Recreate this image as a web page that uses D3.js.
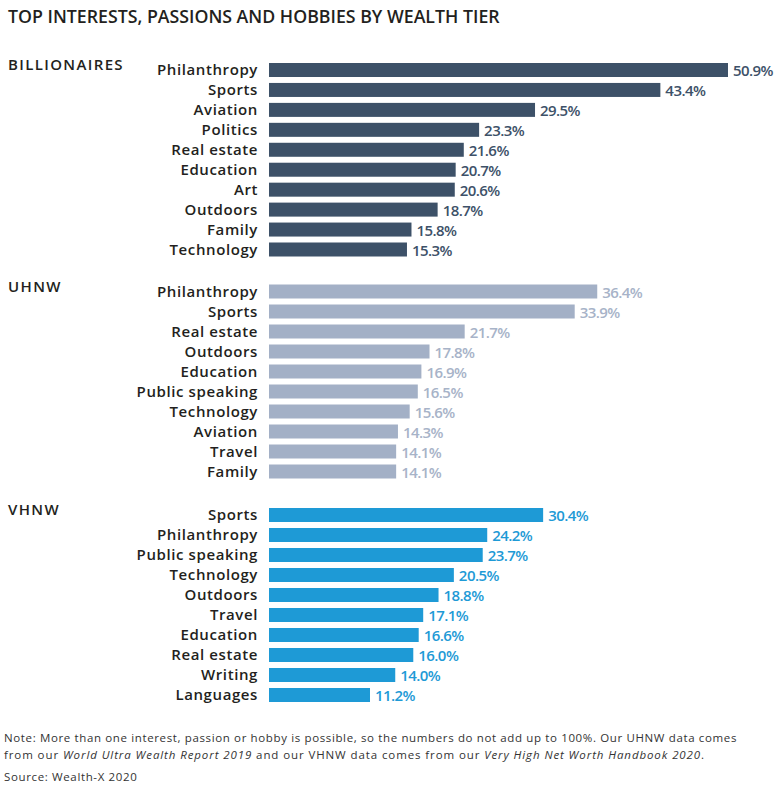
<!DOCTYPE html>
<html><head><meta charset="utf-8">
<script src="https://cdn.jsdelivr.net/npm/d3@7"></script>
<style>
html,body{margin:0;padding:0;background:#fff;}
svg{display:block;}
</style></head>
<body>
<script>
const titleText = "TOP INTERESTS, PASSIONS AND HOBBIES BY WEALTH TIER";
const tierNames = ["BILLIONAIRES", "UHNW", "VHNW"];

const billionaireCats = ["Philanthropy","Sports","Aviation","Politics","Real estate","Education","Art","Outdoors","Family","Technology"];
const billionaireVals = [50.9,43.4,29.5,23.3,21.6,20.7,20.6,18.7,15.8,15.3];

const uhnwCats = ["Philanthropy","Sports","Real estate","Outdoors","Education","Public speaking","Technology","Aviation","Travel","Family"];
const uhnwVals = [36.4,33.9,21.7,17.8,16.9,16.5,15.6,14.3,14.1,14.1];

const vhnwCats = ["Sports","Philanthropy","Public speaking","Technology","Outdoors","Travel","Education","Real estate","Writing","Languages"];
const vhnwVals = [30.4,24.2,23.7,20.5,18.8,17.1,16.6,16.0,14.0,11.2];

const W = 784, H = 793;
const svg = d3.select("body").append("svg").attr("width", W).attr("height", H);
const font = "'Open Sans', sans-serif";

const x = d3.scaleLinear().domain([0, 50.9]).range([269, 728]);

const sections = [
  {name: tierNames[0], cats: billionaireCats, vals: billionaireVals, y0: 70, y1: 249.5, bar: "#3d5168", txt: "#3d5168"},
  {name: tierNames[1], cats: uhnwCats, vals: uhnwVals, y0: 291.5, y1: 471.5, bar: "#a3b0c6", txt: "#a7b3c8"},
  {name: tierNames[2], cats: vhnwCats, vals: vhnwVals, y0: 515, y1: 695, bar: "#1e9ad6", txt: "#1e9ad6"}
];

function fitText(sel, target) {
  const w = sel.node().getComputedTextLength();
  const fs = parseFloat(sel.attr("font-size"));
  sel.attr("font-size", fs * target / w);
}
function spacingFor(str, fs, weight, target) {
  const tmp = svg.append("text").attr("font-family", font).attr("font-weight", weight)
    .attr("font-size", fs).text(str);
  const w = tmp.node().getComputedTextLength();
  tmp.remove();
  return (target - w) / str.length;
}

// Title
const t = svg.append("text").attr("x", 8).attr("y", 23)
  .attr("font-family", font).attr("font-weight", 600).attr("font-size", 15)
  .attr("fill", "#231f20").text(titleText);
fitText(t, 492);

const catFs = 15;
const catLs = spacingFor("Philanthropy", catFs, 600, 101);
const valFs = 15;
const valLs = spacingFor("50.9%", valFs, 600, 40);
const secLs = spacingFor("BILLIONAIRES", 15, 600, 116);

const barH = 14;
sections.forEach(s => {
  const y = d3.scalePoint().domain(s.cats).range([s.y0, s.y1]);
  const g = svg.append("g");
  g.append("text").attr("x", 8).attr("y", s.y0)
    .attr("font-family", font).attr("font-weight", 600).attr("font-size", 15)
    .attr("letter-spacing", secLs)
    .attr("fill", "#231f20").text(s.name);
  const data = s.cats.map((c, i) => ({c, v: s.vals[i]}));
  g.selectAll("rect").data(data).enter().append("rect")
    .attr("x", x(0)).attr("y", d => y(d.c) - barH / 2)
    .attr("width", d => x(d.v) - x(0)).attr("height", barH)
    .attr("fill", s.bar);
  g.selectAll("text.cat").data(data).enter().append("text").attr("class", "cat")
    .attr("x", 258).attr("y", d => y(d.c) + 5)
    .attr("text-anchor", "end")
    .attr("font-family", font).attr("font-weight", 600).attr("font-size", catFs)
    .attr("letter-spacing", catLs)
    .attr("fill", "#231f20").text(d => d.c);
  g.selectAll("text.val").data(data).enter().append("text").attr("class", "val")
    .attr("x", d => x(d.v) + 5).attr("y", d => y(d.c) + 6)
    .attr("font-family", font).attr("font-weight", 600).attr("font-size", valFs)
    .attr("letter-spacing", valLs)
    .attr("fill", s.txt).text(d => d.v.toFixed(1) + "%");
});

// Notes
const nfs = 11.5;
const line1 = "Note: More than one interest, passion or hobby is possible, so the numbers do not add up to 100%. Our UHNW data comes";
const nLs = spacingFor(line1, nfs, 400, 733);
svg.append("text").attr("x", 4).attr("y", 742)
  .attr("font-family", font).attr("font-size", nfs).attr("fill", "#333")
  .attr("letter-spacing", nLs).text(line1);
const n2 = svg.append("text").attr("x", 4).attr("y", 759)
  .attr("font-family", font).attr("font-size", nfs).attr("fill", "#333");
n2.append("tspan").text("from our ");
n2.append("tspan").attr("font-style", "italic").text("World Ultra Wealth Report 2019");
n2.append("tspan").text(" and our VHNW data comes from our ");
n2.append("tspan").attr("font-style", "italic").text("Very High Net Worth Handbook 2020");
n2.append("tspan").text(".");
const n2w = n2.node().getComputedTextLength();
const n2chars = n2.text().length;
n2.attr("letter-spacing", (701 - n2w) / n2chars);
svg.append("text").attr("x", 4).attr("y", 781)
  .attr("font-family", font).attr("font-size", nfs).attr("fill", "#333")
  .attr("letter-spacing", nLs)
  .text("Source: Wealth-X 2020");
</script>
</body></html>
